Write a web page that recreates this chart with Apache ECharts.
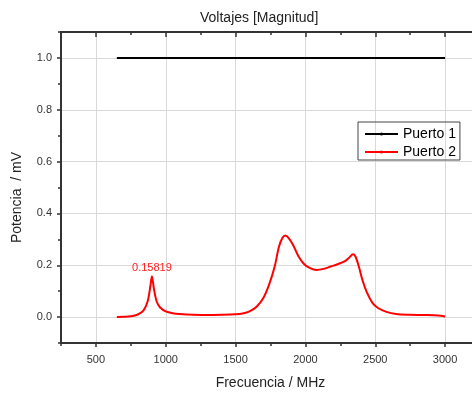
<!DOCTYPE html>
<html>
<head>
<meta charset="utf-8">
<script src="https://cdn.jsdelivr.net/npm/echarts@6/dist/echarts.min.js"></script>
<style>
  html, body { margin: 0; padding: 0; background: #fff; }
  #chart { width: 472px; height: 393px; }
</style>
</head>
<body>
<div id="chart"></div>
<script>
// tick positions
const freqTicks = [500, 1000, 1500, 2000, 2500, 3000]
const freqMinor = [250, 750, 1250, 1750, 2250, 2750, 3250]
const voltTicks = [0, 0.2, 0.4, 0.6, 0.8, 1.0]
const voltMinor = [-0.1, 0.1, 0.3, 0.5, 0.7, 0.9, 1.1]

// Puerto 1
const puerto1Freq = [650, 3000]
const puerto1Volt = [1.0, 1.0]

// Puerto 2
const puerto2Freq = [650, 700, 750, 800, 840, 870, 890, 901, 915, 935, 960, 1000, 1050, 1100, 1200, 1300, 1400, 1500,
  1550, 1600, 1650, 1700, 1740, 1780, 1810, 1835, 1857, 1880, 1910, 1950, 1990, 2030, 2080, 2130, 2180, 2230, 2280,
  2315, 2340, 2360, 2385, 2410, 2440, 2480, 2520, 2580, 2650, 2750, 2850, 2950, 3000]
const puerto2Volt = [0.0, 0.001, 0.003, 0.010, 0.025, 0.060, 0.120, 0.158, 0.110, 0.060, 0.037, 0.022, 0.015, 0.012,
  0.009, 0.008, 0.009, 0.011, 0.014, 0.022, 0.040, 0.075, 0.125, 0.195, 0.270, 0.305, 0.315, 0.305, 0.280, 0.235,
  0.205, 0.190, 0.182, 0.186, 0.195, 0.204, 0.215, 0.230, 0.242, 0.232, 0.190, 0.140, 0.095, 0.055, 0.035, 0.020,
  0.012, 0.009, 0.008, 0.006, 0.002]

const peakFreq = 901
const peakVolt = 0.15819

const font = 'Liberation Sans, Arial, sans-serif'
const axisColor = '#333'
const chart = echarts.init(document.getElementById('chart'))

function zip(xs, ys) {
  return xs.map((x, i) => [x, ys[i]])
}

function tickAxis(position, values, len, inside, withLine) {
  return {
    type: 'value',
    position,
    min: 250,
    max: 3250,
    axisLine: { show: withLine, onZero: false, lineStyle: { color: axisColor, width: 2 } },
    axisTick: { show: true, inside, length: len, customValues: values, lineStyle: { color: axisColor, width: 1.5 } },
    axisLabel: { show: false },
    splitLine: { show: false }
  }
}

const option = {
  animation: false,
  backgroundColor: '#fff',
  title: {
    text: 'Voltajes [Magnitud]',
    left: 200,
    top: 11,
    padding: 0,
    textStyle: { fontFamily: font, fontSize: 14, fontWeight: 'normal', color: '#222' }
  },
  grid: { left: 61, right: -8, top: 32, bottom: 50, containLabel: false, outerBoundsMode: 'none' },
  legend: {
    left: 358,
    top: 122,
    orient: 'vertical',
    padding: [5, 4, 1, 6],
    itemGap: 4,
    itemWidth: 33,
    itemHeight: 4,
    borderColor: '#444',
    borderWidth: 1,
    borderRadius: 0,
    itemStyle: { borderWidth: 0 },
    textStyle: { fontFamily: font, fontSize: 14, color: '#000' },
    data: ['Puerto 1', 'Puerto 2']
  },
  xAxis: [
    {
      type: 'value',
      position: 'bottom',
      min: 250,
      max: 3250,
      name: 'Frecuencia / MHz',
      nameLocation: 'middle',
      nameGap: 33,
      nameTextStyle: { fontFamily: font, fontSize: 14, color: '#222' },
      axisLine: { show: true, onZero: false, lineStyle: { color: axisColor, width: 2 } },
      axisTick: { show: true, length: 4, customValues: freqTicks, lineStyle: { color: axisColor, width: 1.5 } },
      axisLabel: {
        customValues: freqTicks,
        margin: 11,
        fontFamily: font,
        fontSize: 11,
        color: '#333',
        formatter: v => String(v)
      },
      splitLine: { show: true, lineStyle: { color: '#d9d9d9', width: 1 } }
    },
    tickAxis('bottom', freqMinor, 3, false, false),
    tickAxis('top', freqTicks, 5, true, true),
    tickAxis('top', freqMinor, 3, true, false)
  ],
  yAxis: [
    {
      type: 'value',
      position: 'left',
      min: -0.1,
      max: 1.1,
      name: 'Potencia  / mV',
      nameLocation: 'middle',
      nameGap: 37,
      nameTextStyle: { fontFamily: font, fontSize: 14, color: '#222', padding: [0, 20, 0, 0] },
      axisLine: { show: true, onZero: false, lineStyle: { color: axisColor, width: 2 } },
      axisTick: { show: true, length: 4, customValues: voltTicks, lineStyle: { color: axisColor, width: 1.5 } },
      axisLabel: {
        customValues: voltTicks,
        margin: 9,
        fontFamily: font,
        fontSize: 11,
        color: '#333',
        formatter: v => v.toFixed(1)
      },
      splitLine: { show: true, lineStyle: { color: '#d9d9d9', width: 1 } }
    },
    {
      type: 'value',
      position: 'left',
      min: -0.1,
      max: 1.1,
      axisLine: { show: false, onZero: false },
      axisTick: { show: true, length: 3, customValues: voltMinor, lineStyle: { color: axisColor, width: 1.5 } },
      axisLabel: { show: false },
      splitLine: { show: false }
    }
  ],
  series: [
    {
      name: 'Puerto 1',
      type: 'line',
      data: zip(puerto1Freq, puerto1Volt),
      symbol: 'circle',
      showSymbol: false,
      color: '#000',
      lineStyle: { color: '#000', width: 2 }
    },
    {
      name: 'Puerto 2',
      type: 'line',
      data: zip(puerto2Freq, puerto2Volt),
      symbol: 'circle',
      showSymbol: false,
      smooth: 0.3,
      color: '#ff0000',
      lineStyle: { color: '#ff0000', width: 2 },
      markPoint: {
        symbol: 'circle',
        symbolSize: 0,
        data: [{ coord: [peakFreq, peakVolt], value: peakVolt }],
        label: {
          show: true,
          position: 'top',
          distance: 3,
          formatter: p => p.value,
          fontFamily: font,
          fontSize: 11,
          color: '#ff2020'
        }
      }
    }
  ]
}

chart.setOption(option)
</script>
</body>
</html>
